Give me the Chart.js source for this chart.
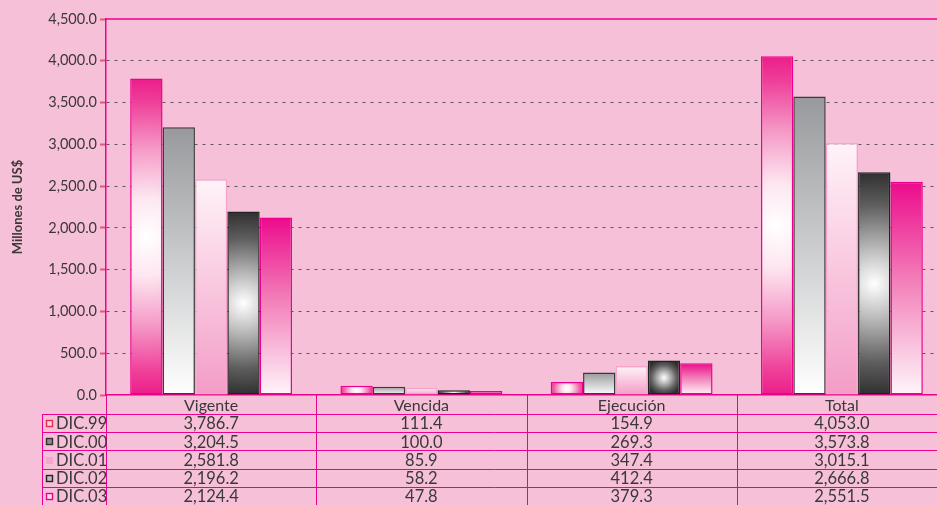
<!DOCTYPE html>
<html>
<head>
<meta charset="utf-8">
<script src="https://cdn.jsdelivr.net/npm/chart.js@4"></script>
<style>
  html, body { margin: 0; padding: 0; background: #F7C0D9; overflow: hidden; }
  #wrap { width: 937px; height: 505px; overflow: hidden; }
</style>
</head>
<body>
<div id="wrap"><canvas id="chart" width="960" height="505"></canvas></div>
<script>
const categories = ['Vigente', 'Vencida', 'Ejecución', 'Total'];
const seriesLabels = ['DIC.99', 'DIC.00', 'DIC.01', 'DIC.02', 'DIC.03'];
const dic99 = [3786.7, 111.4, 154.9, 4053.0];
const dic00 = [3204.5, 100.0, 269.3, 3573.8];
const dic01 = [2581.8, 85.9, 347.4, 3015.1];
const dic02 = [2196.2, 58.2, 412.4, 2666.8];
const dic03 = [2124.4, 47.8, 379.3, 2551.5];
const yMax = 4500;
const yStep = 500;

const PINK = '#EC008C';
const TEXT = '#3b3838';
const BAR_FRAC = 0.77;

function fmt(v) {
  return v.toLocaleString('en-US', { minimumFractionDigits: 1, maximumFractionDigits: 1 });
}

// bar geometry from the scales, null if layout not ready
function barBox(c) {
  if (c.raw === undefined || !c.chart.scales || !c.chart.scales.x || !c.chart.scales.y) return null;
  const { x, y } = c.chart.scales;
  const catW = (x.right - x.left) / categories.length;
  const barW = catW * BAR_FRAC / seriesLabels.length;
  const cx = x.getPixelForValue(c.dataIndex) + (c.datasetIndex - 2) * barW;
  const top = y.getPixelForValue(c.raw);
  const bot = y.getPixelForValue(0);
  if (![catW, barW, cx, top, bot].every(Number.isFinite) || barW <= 0 || bot <= top) return null;
  return { cx, top, bot, barW };
}

function radial(stops) {
  return (c) => {
    const b = barBox(c);
    if (!b) return stops[stops.length - 1][1];
    const h = b.bot - b.top;
    const cy = (b.top + b.bot) / 2;
    const r = Math.max(b.barW / 2, h / 2) + 1;
    const g = c.chart.ctx.createRadialGradient(b.cx, cy, 0, b.cx, cy, r);
    stops.forEach(s => g.addColorStop(s[0], s[1]));
    return g;
  };
}

function linear(stops) {
  return (c) => {
    const b = barBox(c);
    if (!b) return stops[0][1];
    const g = c.chart.ctx.createLinearGradient(0, b.top, 0, b.bot);
    stops.forEach(s => g.addColorStop(s[0], s[1]));
    return g;
  };
}

const fills = [
  radial([[0, '#FFFFFF'], [0.25, '#FDE6F0'], [0.55, '#F59BC8'], [0.85, '#EF3F99'], [1, '#EC1C8A']]),
  linear([[0, '#97999C'], [1, '#FFFFFF']]),
  linear([[0, '#FFF3F8'], [1, '#F39CC6']]),
  radial([[0, '#FFFFFF'], [0.3, '#BDBDBD'], [0.7, '#5E5E5E'], [1, '#2E2E2E']]),
  linear([[0, '#EC0A8C'], [0.45, '#F27CB7'], [1, '#FFF5FA']])
];
const borders = ['#EC008C', '#3a3a3a', '#F5A3CA', '#222222', '#EC008C'];
const seriesData = [dic99, dic00, dic01, dic02, dic03];

const bgPlugin = {
  id: 'bg',
  beforeDraw(chart) {
    const ctx = chart.ctx;
    ctx.save();
    ctx.fillStyle = '#F7C0D9';
    ctx.fillRect(0, 0, chart.width, chart.height);
    ctx.restore();
  }
};

// data table under the plot
const tablePlugin = {
  id: 'table',
  afterDraw(chart) {
    const ctx = chart.ctx;
    const x = chart.scales.x;
    const area = chart.chartArea;
    const catW = (x.right - x.left) / categories.length;
    const headTop = area.bottom;
    const rowTop = headTop + 19;
    const rowH = 18.2;
    const legLeft = 42;
    ctx.save();

    // top frame line
    ctx.strokeStyle = PINK;
    ctx.lineWidth = 1.5;
    ctx.beginPath();
    ctx.moveTo(area.left, area.top);
    ctx.lineTo(area.right, area.top);
    ctx.stroke();

    ctx.lineWidth = 1;
    ctx.beginPath();
    for (let i = 0; i < seriesLabels.length; i++) {
      const yy = Math.round(rowTop + i * rowH) + 0.5;
      ctx.moveTo(legLeft, yy);
      ctx.lineTo(area.right, yy);
    }
    ctx.moveTo(legLeft + 0.5, rowTop);
    ctx.lineTo(legLeft + 0.5, chart.height);
    for (let i = 0; i <= categories.length; i++) {
      const xx = Math.round(x.left + i * catW) + 0.5;
      ctx.moveTo(xx, headTop);
      ctx.lineTo(xx, chart.height);
    }
    ctx.stroke();

    ctx.font = '16.5px Lato';
    ctx.textBaseline = 'middle';
    for (let s = 0; s < seriesLabels.length; s++) {
      const cy = rowTop + s * rowH + rowH / 2 + 1;
      ctx.textAlign = 'center';
      ctx.fillStyle = TEXT;
      seriesData[s].forEach((v, i) => {
        ctx.fillText(fmt(v), x.getPixelForValue(i), cy);
      });
      // legend swatch
      const sx = 46, sy = Math.round(cy - 4);
      ctx.fillStyle = ['#F9D3E4', '#8C8C8C', '#F4A6CB', '#BDBDBD', '#FBE3EE'][s];
      ctx.fillRect(sx, sy, 7, 7);
      if (s !== 2) {
        ctx.strokeStyle = ['#E0304A', '#333333', '#F4A6CB', '#222222', PINK][s];
        ctx.lineWidth = 1.4;
        ctx.strokeRect(sx + 0.5, sy + 0.5, 6, 6);
      }
      ctx.textAlign = 'left';
      ctx.fillStyle = TEXT;
      ctx.fillText(seriesLabels[s], 56, cy);
    }
    ctx.restore();
  }
};

new Chart(document.getElementById('chart'), {
  type: 'bar',
  data: {
    labels: categories,
    datasets: seriesLabels.map((label, i) => ({
      label: label,
      data: seriesData[i],
      backgroundColor: fills[i],
      borderColor: borders[i],
      borderWidth: 1.5,
      borderSkipped: false,
      categoryPercentage: BAR_FRAC,
      barPercentage: 1
    }))
  },
  plugins: [bgPlugin, tablePlugin],
  options: {
    responsive: false,
    animation: false,
    devicePixelRatio: 1,
    layout: { padding: { left: 0, top: 19, right: 13, bottom: 90 } },
    plugins: { legend: { display: false }, tooltip: { enabled: false } },
    scales: {
      x: {
        afterFit: (s) => { s.height = 20; },
        grid: { drawOnChartArea: false, drawTicks: false },
        border: { color: PINK, width: 1.5 },
        ticks: { font: { family: 'Lato', size: 16 }, color: TEXT, padding: 1 }
      },
      y: {
        min: 0,
        max: yMax,
        afterFit: (s) => { s.width = 106; },
        ticks: {
          stepSize: yStep,
          font: { family: 'Lato', size: 14.5 },
          color: TEXT,
          padding: 3,
          callback: (v) => fmt(v)
        },
        grid: {
          color: (c) => (c.tick && (c.tick.value === 0 || c.tick.value === yMax)) ? 'rgba(0,0,0,0)' : '#5a5a5a',
          lineWidth: 1,
          tickColor: '#E4557F',
          tickLength: 6,
          tickWidth: 2
        },
        border: { color: PINK, width: 1.5, dash: [3, 5] },
        title: {
          display: true,
          text: 'Millones de US$',
          font: { family: 'Lato', size: 13, weight: 'bold' },
          color: TEXT,
          padding: { top: 10, bottom: 0 }
        }
      }
    }
  }
});
</script>
</body>
</html>
